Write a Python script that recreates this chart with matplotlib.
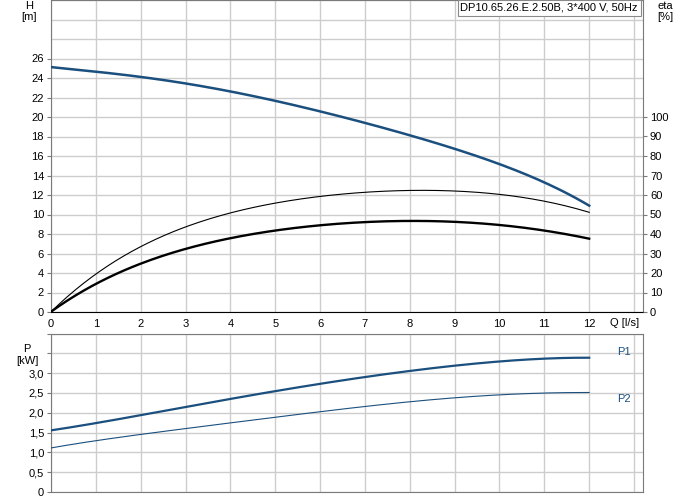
import numpy as np
import matplotlib.pyplot as plt

plt.rcParams['font.family'] = ['Liberation Sans', 'DejaVu Sans']
plt.rcParams['font.size'] = 8

# Datos
q = [0, 1, 2, 3, 4, 5, 6, 7, 8, 9, 10, 11, 12]
h = [25.1, 24.7, 24.1, 23.4, 22.6, 21.7, 20.6, 19.4, 18.1, 16.7, 15.2, 13.3, 10.9]
eta_pump = [0, 19.7, 33.3, 43.6, 50.8, 55.9, 59.3, 61.5, 62.2, 61.9, 60.5, 56.8, 51.1]
eta_total = [0, 14.9, 24.3, 32.3, 38.0, 41.9, 44.4, 46.2, 46.5, 46.2, 44.8, 41.7, 37.6]
p1 = [1.555, 1.74, 1.94, 2.14, 2.35, 2.55, 2.73, 2.90, 3.05, 3.19, 3.30, 3.36, 3.39]
p2 = [1.11, 1.30, 1.45, 1.60, 1.74, 1.89, 2.03, 2.16, 2.27, 2.38, 2.45, 2.50, 2.51]

h_ticks = list(range(0, 27, 2))
eta_ticks = list(range(0, 101, 10))
p_ticks = [0, 0.5, 1.0, 1.5, 2.0, 2.5, 3.0]
p_labels = ['0', '0,5', '1,0', '1,5', '2,0', '2,5', '3,0']
q_ticks = list(range(0, 13))

blue = '#1b4f7e'
grid_col = '#cdcdcd'
spine_col = '#7a7a7a'

# interpolacion suave de los puntos leidos
qs = np.linspace(0, 12, 200)
def smooth(y):
    return np.polyval(np.polyfit(q, y, 5), qs)

fig = plt.figure(figsize=(6.91, 5.00), dpi=100)
W, H = 691, 500
ax = fig.add_axes([51 / W, 188 / H, 592 / W, 312 / H])
ax2 = ax.twinx()
axp = fig.add_axes([51 / W, 8 / H, 592 / W, 158.5 / H])

# Curva H y eficiencia
ax.set_xlim(0, 13.2)
ax.set_ylim(0, 32)
ax.set_xticks(range(0, 14), minor=False)
ax.set_xticklabels([str(v) for v in q_ticks] + [''])
ax.set_yticks(range(0, 33, 2))
ax.set_yticklabels([str(v) if v in h_ticks else '' for v in range(0, 33, 2)])
ax.grid(True, color=grid_col, linewidth=1)
ax.set_axisbelow(True)
ax.plot(qs, smooth(h), color=blue, linewidth=1.8, zorder=3)
ax.plot(qs, smooth(eta_pump) / 5, color='black', linewidth=0.8, zorder=3)
ax.plot(qs, smooth(eta_total) / 5, color='black', linewidth=1.7, zorder=3)
ax.tick_params(axis='both', length=3, color=spine_col, pad=2)
for t in ax.yaxis.get_major_ticks()[14:]:
    t.tick1line.set_visible(False)
for t in ax.xaxis.get_major_ticks():
    t.tick1line.set_visible(False)
ax.spines['bottom'].set_color('black')
ax.spines['left'].set_color(spine_col)
ax.spines['right'].set_color(spine_col)
ax.spines['top'].set_color(spine_col)

ax2.set_ylim(0, 160)
ax2.set_yticks(eta_ticks)
ax2.tick_params(axis='y', length=3, color=spine_col, pad=2)
for s in ax2.spines.values():
    s.set_visible(False)

# Potencia
axp.set_xlim(0, 13.2)
axp.set_ylim(0, 4.0)
axp.set_xticks(range(0, 14))
axp.set_xticklabels([])
axp.set_yticks([0, 0.5, 1.0, 1.5, 2.0, 2.5, 3.0, 3.5, 4.0])
axp.set_yticklabels(p_labels + ['', ''])
axp.grid(True, color=grid_col, linewidth=1)
axp.set_axisbelow(True)
axp.plot(qs, smooth(p1), color=blue, linewidth=1.6, zorder=3)
axp.plot(qs, smooth(p2), color=blue, linewidth=0.8, zorder=3)
axp.tick_params(axis='y', length=3, color=spine_col, pad=2)
axp.tick_params(axis='x', length=0)
for s in axp.spines.values():
    s.set_color(spine_col)
axp.text(12.78, 3.53, 'P1', color=blue, va='center', ha='center')
axp.text(12.78, 2.35, 'P2', color=blue, va='center', ha='center')

# Textos
fig.text(29 / W, 1 - 6 / H, 'H', ha='center', va='center')
fig.text(29 / W, 1 - 17 / H, '[m]', ha='center', va='center')
fig.text(665 / W, 1 - 6 / H, 'eta', ha='center', va='center')
fig.text(665 / W, 1 - 17 / H, '[%]', ha='center', va='center')
fig.text(27 / W, 1 - 349 / H, 'P', ha='center', va='center')
fig.text(27 / W, 1 - 361 / H, '[kW]', ha='center', va='center')
fig.text(625 / W, 1 - 323 / H, 'Q [l/s]', ha='center', va='center')
fig.text(638 / W, 1 - 8 / H, 'DP10.65.26.E.2.50B, 3*400 V, 50Hz',
         ha='right', va='center',
         bbox=dict(boxstyle='square,pad=0.25', facecolor='white', edgecolor='#8a8a8a', linewidth=0.8))

fig.savefig('out.png', dpi=100)
